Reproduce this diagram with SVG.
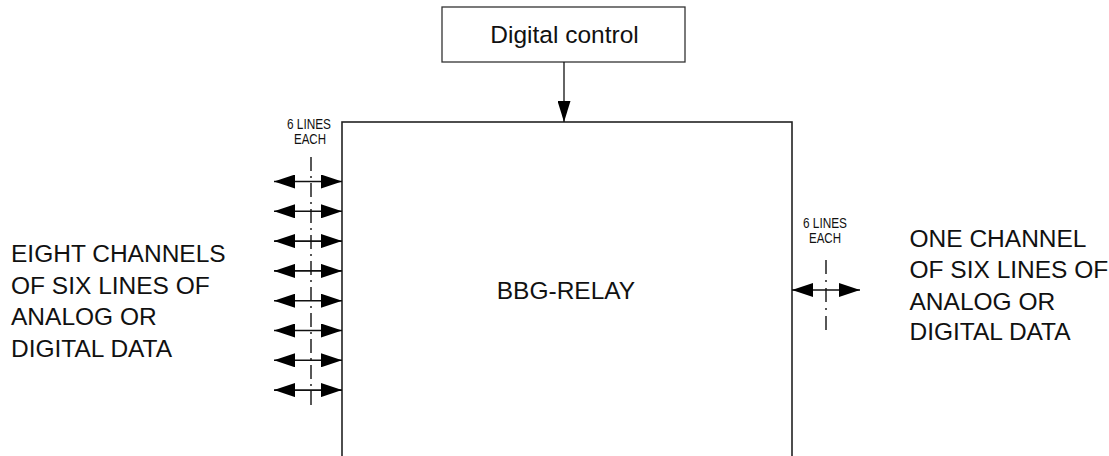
<svg xmlns="http://www.w3.org/2000/svg" width="1109" height="456" viewBox="0 0 1109 456">
<style>
text{font-family:"Liberation Sans",Arial,sans-serif;fill:#111}
.big{font-size:24.5px}
.small{font-size:14.5px}
.box{fill:#fff;stroke:#222;stroke-width:1.6}
.ctl{fill:#fff;stroke:#333;stroke-width:1.3}
.arr{stroke:#111;stroke-width:1.6;fill:none;marker-start:url(#ah);marker-end:url(#ah)}
.dn{stroke:#111;stroke-width:1.3;fill:none;marker-end:url(#ah2)}
.dd{stroke:#111;stroke-width:1.4;fill:none;stroke-dasharray:14 5 2 5}
</style>
<defs>
<marker id="ah" markerUnits="userSpaceOnUse" markerWidth="21" markerHeight="14" refX="21" refY="7" orient="auto-start-reverse" viewBox="0 0 21 14">
<path d="M0,0 L21,7 L0,14 z" fill="#000"/>
</marker>
<marker id="ah2" markerUnits="userSpaceOnUse" markerWidth="21" markerHeight="13" refX="21" refY="6.5" orient="auto" viewBox="0 0 21 13">
<path d="M0,0 L21,6.5 L0,13 z" fill="#000"/>
</marker>
</defs>
<rect width="1109" height="456" fill="#fff"/>
<g id="digital-control">
<rect class="ctl" x="442" y="7" width="243" height="55"/>
<text class="big" x="564.5" y="43" text-anchor="middle">Digital control</text>
</g>
<g id="bbg-relay">
<rect class="box" x="342" y="122" width="450" height="340"/>
<text class="big" x="566" y="299" text-anchor="middle">BBG-RELAY</text>
</g>
<g id="left-label">
<text class="big" x="11"><tspan x="11" y="262">EIGHT CHANNELS</tspan><tspan x="11" y="293.5">OF SIX LINES OF</tspan><tspan x="11" y="325">ANALOG OR</tspan><tspan x="11" y="356.5">DIGITAL DATA</tspan></text>
<text class="small" x="309" y="129" text-anchor="middle" textLength="44" lengthAdjust="spacingAndGlyphs">6 LINES</text>
<text class="small" x="310" y="144" text-anchor="middle" textLength="32" lengthAdjust="spacingAndGlyphs">EACH</text>
</g>
<g id="right-label">
<text class="big" x="909.5"><tspan x="909.5" y="246.7">ONE CHANNEL</tspan><tspan x="909.5" y="278.3">OF SIX LINES OF</tspan><tspan x="909.5" y="310">ANALOG OR</tspan><tspan x="909.5" y="340">DIGITAL DATA</tspan></text>
<text class="small" x="825" y="228" text-anchor="middle" textLength="44" lengthAdjust="spacingAndGlyphs">6 LINES</text>
<text class="small" x="825" y="243" text-anchor="middle" textLength="32" lengthAdjust="spacingAndGlyphs">EACH</text>
</g>
<g id="connectors">
<line class="dn" x1="564" y1="62" x2="564" y2="122"/>
<line class="dd" x1="311" y1="157" x2="311" y2="406"/>
<line class="dd" x1="826" y1="260" x2="826" y2="336" style="stroke-dasharray:14 6 2 6"/>
<line class="arr" x1="274" y1="181.5" x2="342" y2="181.5"/>
<line class="arr" x1="274" y1="211.3" x2="342" y2="211.3"/>
<line class="arr" x1="274" y1="241.1" x2="342" y2="241.1"/>
<line class="arr" x1="274" y1="270.9" x2="342" y2="270.9"/>
<line class="arr" x1="274" y1="300.7" x2="342" y2="300.7"/>
<line class="arr" x1="274" y1="330.5" x2="342" y2="330.5"/>
<line class="arr" x1="274" y1="360.3" x2="342" y2="360.3"/>
<line class="arr" x1="274" y1="390.1" x2="342" y2="390.1"/>
<line class="arr" x1="792" y1="290" x2="860" y2="290"/>
</g>
</svg>
